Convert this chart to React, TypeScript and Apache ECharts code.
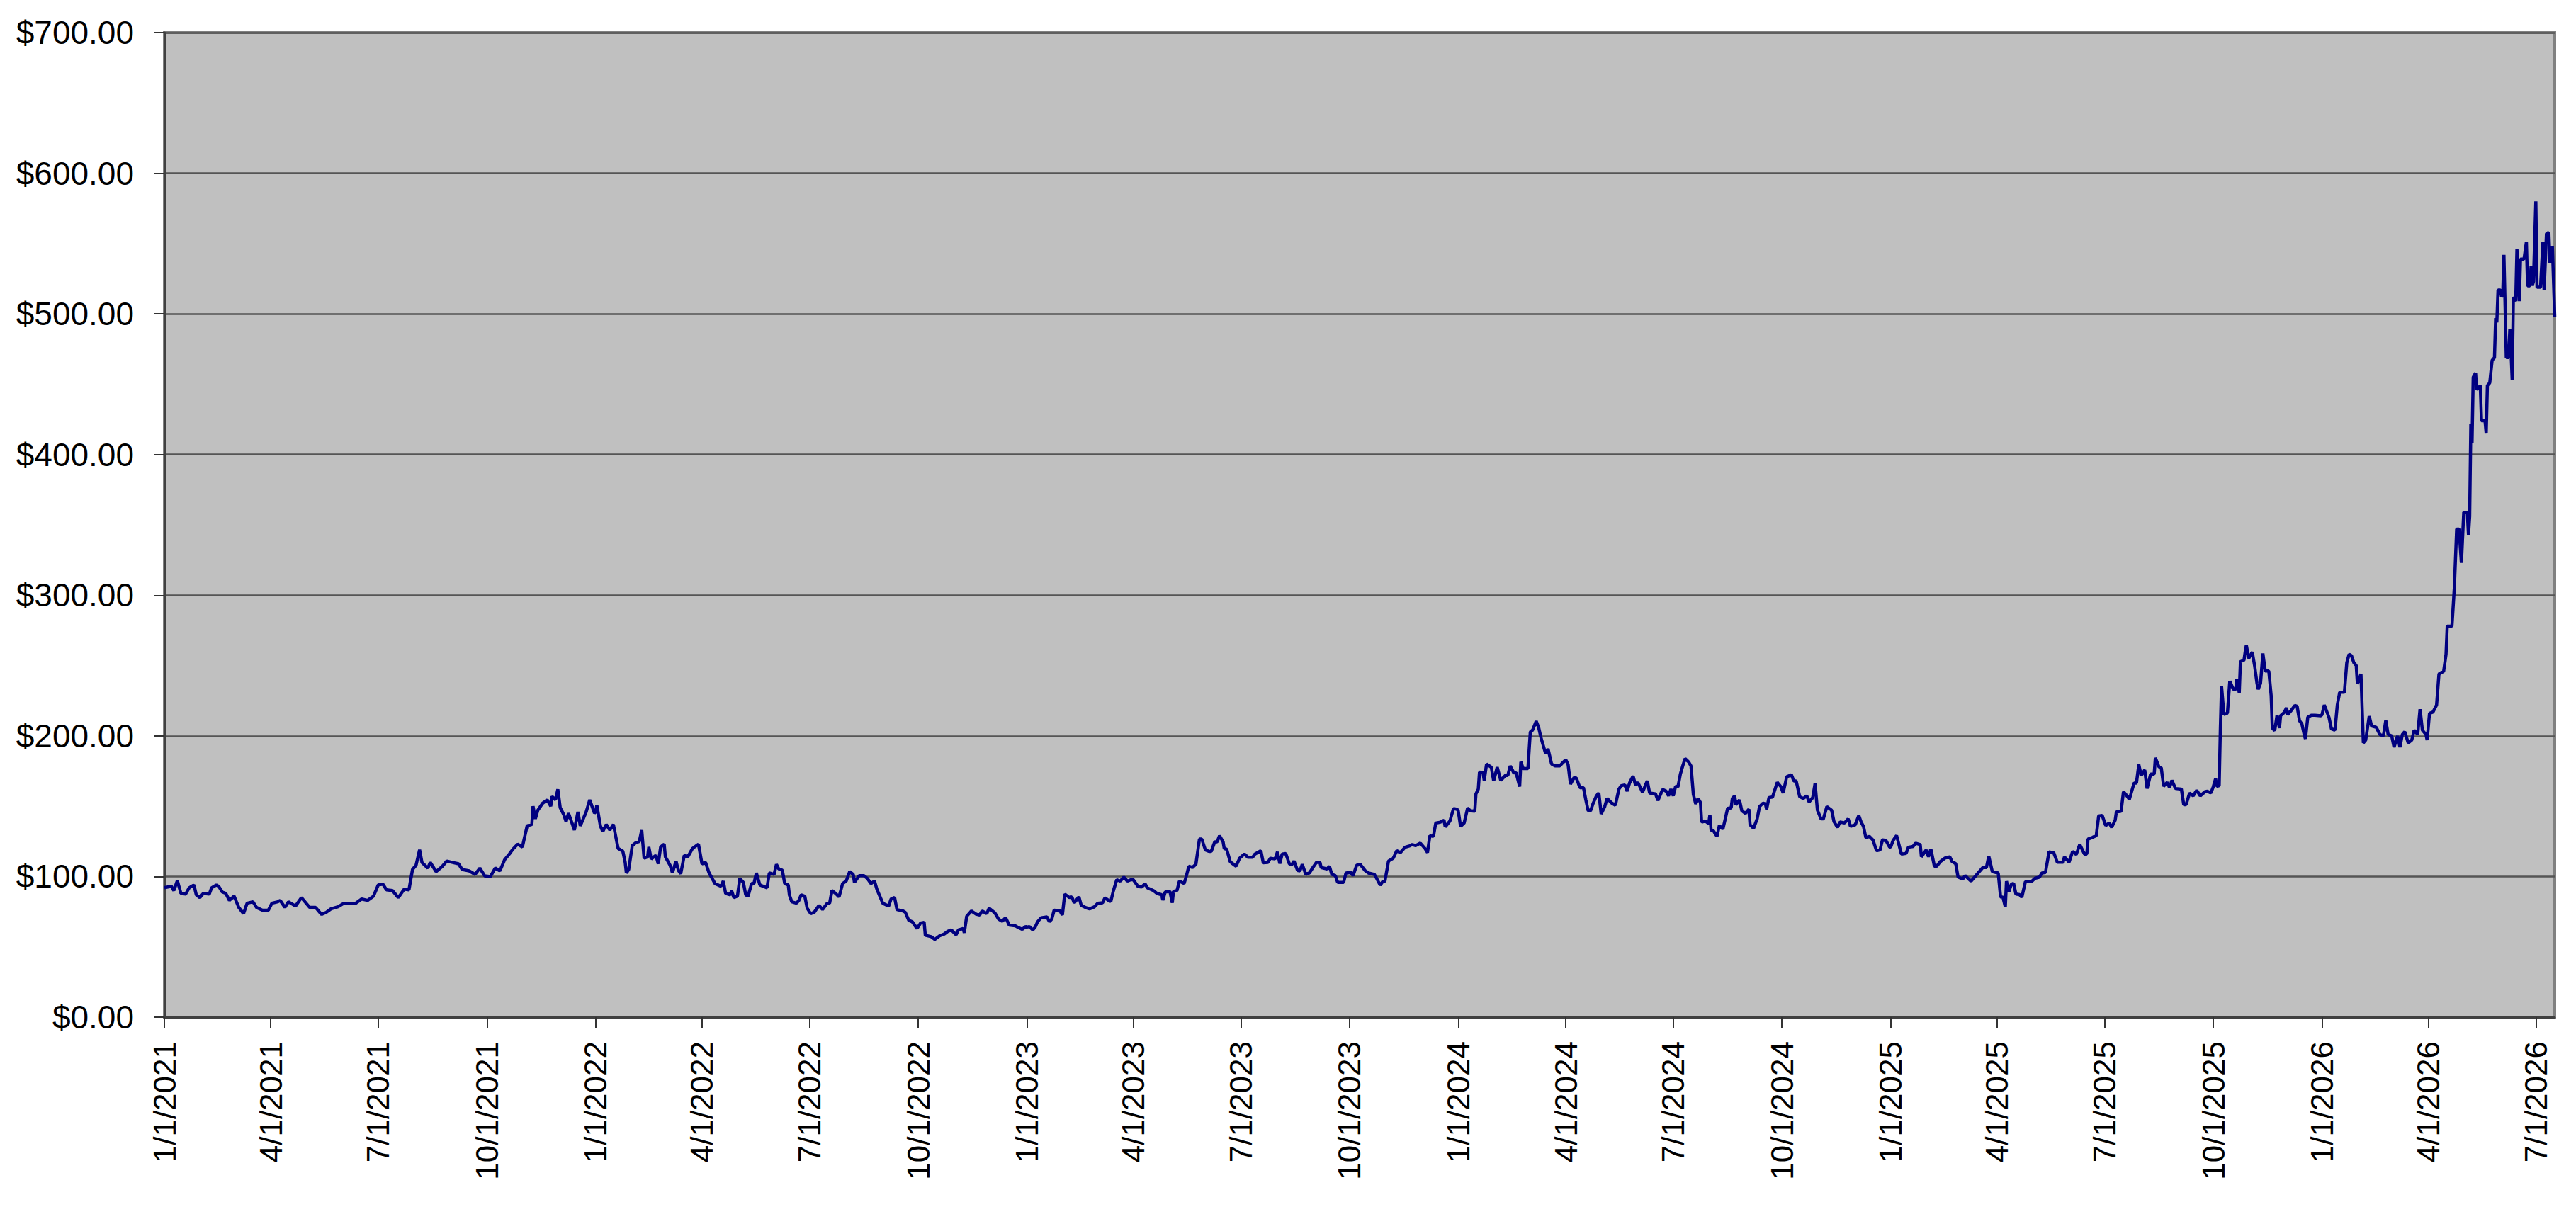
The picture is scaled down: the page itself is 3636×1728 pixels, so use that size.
import React, { useEffect, useRef } from "react";
import * as echarts from "echarts";

const startDate = "2021-01-01";
const endDate = "2026-07-17";

// [day of year (0 = Jan 1), close]
const closes2021 = [
  [0, 92], [6, 93], [8, 90], [11, 97], [14, 88], [18, 87.5], [21, 92], [25, 94], [27, 87], [30, 85],
  [33, 88], [38, 87.5], [40, 92], [44, 94], [46, 93], [49, 89], [52, 88], [55, 83], [59, 86], [63, 78],
  [67, 73.6], [70, 81], [75, 82], [78, 78], [83, 76], [88, 76], [91, 81], [96, 82], [98, 83], [102, 78],
  [105, 82], [109, 80], [111, 79], [116, 85], [120, 81], [123, 78], [128, 78], [133, 73], [137, 74.5], [141, 77],
  [147, 78.5], [152, 81], [158, 81], [162, 81], [167, 84], [172, 83], [177, 86], [181, 94], [185, 94.5], [188, 90.5],
  [193, 90], [198, 85], [203, 91], [207, 90.5], [210, 105], [213, 108], [216, 119], [218, 110], [223, 106], [225, 110],
  [230, 103.5], [235, 107], [239, 111], [244, 110], [249, 109], [252, 105], [258, 104], [263, 101.5], [267, 106], [271, 100.5],
  [276, 100], [280, 106], [284, 104], [288, 112], [292, 116], [295, 119.5], [299, 123], [303, 121], [307, 136], [311, 137],
  [312, 150], [314, 141], [316, 147], [320, 152], [324, 154.5], [327, 150], [328, 157], [331, 154.5], [333, 162], [335, 149],
  [338, 144], [340, 139], [342, 145], [345, 138], [347, 133], [350, 146], [352, 136], [357, 146], [360, 154.5], [364, 145],
];
const closes2022 = [
  [0, 146], [1, 150.7], [4, 136], [6, 132], [9, 137], [12, 133], [15, 137], [19, 120], [23, 118], [25, 110],
  [26, 102.5], [28, 105], [31, 122], [34, 124], [37, 125], [39, 133], [41, 113], [44, 114], [45, 121], [47, 112.5],
  [51, 115], [53, 109], [55, 121], [58, 123], [59, 114], [63, 108], [65, 102.5], [68, 111], [70, 104.4], [72, 102],
  [75, 115], [78, 114], [82, 120], [87, 123], [90, 109], [93, 110], [96, 102.5], [101, 95], [106, 93], [108, 96.7],
  [110, 88], [114, 87], [115, 90], [117, 85], [120, 86], [122, 98.6], [125, 95.8], [127, 87], [129, 86], [132, 95],
  [134, 95], [136, 102.5], [139, 94], [142, 93], [145, 92], [147, 102.5], [151, 101.5], [153, 108.7], [155, 105.4], [158, 104.4],
  [160, 95], [163, 94], [164, 86.7], [166, 82], [170, 81], [172, 83], [174, 87], [177, 86], [179, 77.5], [182, 73.6],
  [185, 74.6], [189, 79.4], [192, 76.5], [196, 81], [198, 81], [200, 90], [203, 88], [206, 85.5], [209, 95], [212, 96.7],
  [215, 103.5], [218, 101.5], [219, 95.8], [223, 100.6], [227, 100.6], [230, 98.6], [233, 95], [236, 96.7], [238, 91], [243, 81],
  [248, 79], [250, 84], [253, 85], [255, 76.5], [260, 75.5], [262, 74.6], [265, 68.8], [268, 67.8], [272, 63], [275, 66.9],
  [278, 67.4], [279, 58.2], [284, 57.2], [287, 55.3], [291, 57.8], [295, 59.1], [298, 61], [301, 62], [305, 58.6], [307, 62],
  [311, 63], [312, 60], [314, 71.7], [318, 75.5], [322, 73.2], [325, 72.6], [327, 75.5], [331, 73.6], [333, 77.5], [338, 74],
  [341, 69.7], [344, 68.2], [347, 70.7], [350, 65.5], [355, 65], [357, 64], [361, 62.4], [364, 64.4],
];
const closes2023 = [
  [0, 64], [2, 64.4], [5, 62], [7, 64], [9, 67.8], [12, 70.7], [17, 71.3], [19, 67.8], [21, 69.7], [23, 76],
  [28, 75.5], [30, 72.6], [32, 87.5], [36, 85], [38, 85.5], [40, 81.3], [44, 85.5], [46, 79.4], [50, 77.8], [53, 77],
  [57, 78.4], [60, 81], [64, 81.3], [66, 84.8], [69, 83], [71, 82.3], [73, 89.4], [76, 97.7], [79, 96.7], [82, 99.6],
  [85, 96.7], [88, 97.7], [90, 97.7], [94, 92.9], [97, 92.5], [100, 94.8], [102, 91.9], [107, 90], [110, 88], [114, 87],
  [115, 83.2], [117, 89], [121, 89.4], [123, 81.3], [124, 89.4], [127, 90], [129, 96.7], [133, 95], [135, 100.6], [137, 107.3],
  [140, 106.4], [143, 108.7], [146, 126.6], [148, 126.6], [151, 118.9], [154, 117.9], [156, 117.9], [159, 124.7], [161, 124.7], [163, 129],
  [166, 124.7], [167, 119.8], [169, 119.5], [172, 110.6], [174, 109.2], [177, 107.3], [180, 113], [184, 116], [187, 113.7], [191, 113.7],
  [193, 116], [198, 118.3], [200, 109.8], [204, 110], [206, 113], [210, 112.5], [212, 117.5], [214, 109.2], [216, 116], [219, 116.4],
  [222, 109.2], [224, 108.3], [226, 111], [229, 104.4], [231, 104], [233, 108.7], [236, 101.5], [239, 102.5], [242, 106.4], [245, 110],
  [248, 110], [249, 106.4], [254, 105.4], [256, 107.3], [258, 101.5], [261, 100.6], [263, 95.8], [268, 95.8], [270, 102.5], [274, 102.9],
  [276, 100.6], [279, 107.9], [282, 108.7], [286, 104.4], [289, 102.5], [294, 101.5], [296, 98.6], [299, 93.8], [301, 96.3], [303, 96.7],
  [306, 111], [308, 112], [310, 113], [313, 118.3], [316, 117], [320, 120.8], [324, 121.8], [326, 122.7], [329, 122], [333, 123.7],
  [337, 119.8], [339, 117], [341, 129], [344, 128.5], [346, 138], [350, 138.7], [353, 140], [354, 135.3], [358, 139.5], [361, 148.4],
  [364, 147.8],
];
const closes2024 = [
  [0, 146.8], [2, 135.6], [5, 138], [8, 148.8], [10, 146.8], [14, 146.4], [15, 158.8], [17, 162.2], [18, 174.2], [21, 173.8],
  [22, 168.4], [24, 180], [28, 177.7], [30, 168], [33, 177.7], [36, 168.4], [40, 171.9], [42, 171.9], [44, 178.6], [47, 173.8],
  [49, 173.8], [52, 164], [53, 181.5], [55, 176.7], [59, 176.7], [61, 202.7], [63, 204.2], [66, 210.4], [68, 206.2], [70, 198.9],
  [74, 187.3], [76, 190.8], [79, 180], [82, 178.6], [86, 178.6], [88, 180.5], [91, 183], [93, 179.6], [95, 165.7], [98, 170.3],
  [100, 170], [103, 163.2], [106, 163.2], [108, 154.5], [110, 146.8], [112, 146.8], [114, 151.6], [117, 157.4], [119, 159.4], [121, 144.5],
  [124, 149.7], [126, 155.5], [130, 152.2], [133, 150.7], [136, 162.2], [138, 164.6], [141, 165.1], [143, 160.7], [145, 166.5], [148, 171.5],
  [150, 165.1], [152, 167], [156, 159.9], [160, 168], [162, 159.4], [167, 158.8], [169, 154.1], [173, 161.9], [176, 160.7], [178, 157.4],
  [180, 162.2], [182, 157.4], [184, 164.2], [186, 163.8], [188, 172.8], [190, 178.6], [192, 183.8], [195, 181.5], [197, 178.6], [199, 158.4],
  [201, 151.6], [203, 155.5], [205, 152.6], [206, 138.7], [209, 139.5], [212, 137.6], [213, 143.9], [214, 133], [216, 132.4], [219, 128.5],
  [221, 136.2], [224, 133.7], [226, 141], [228, 148.4], [231, 148.8], [232, 155.5], [234, 157.4], [235, 151], [238, 154.5], [240, 146.8],
  [243, 144.9], [246, 147.8], [247, 136.8], [250, 134.3], [253, 141], [255, 149.7], [258, 152.2], [260, 151.6], [261, 147.8], [263, 156.1],
  [266, 156.5], [270, 167], [273, 164], [275, 159.4], [278, 170.9], [282, 172.3], [284, 168], [286, 168], [289, 156.8], [292, 155.5],
  [295, 157.4], [297, 153], [300, 156.1], [302, 166.1], [304, 147.2], [307, 141], [309, 141], [312, 149.7], [316, 147.2], [318, 139.1],
  [321, 134.9], [323, 138.7], [327, 138.1], [330, 141], [332, 135.6], [336, 136.8], [339, 143.4], [341, 138.7], [343, 135.6], [345, 127.6],
  [348, 128.5], [351, 126], [354, 118.3], [357, 118.9], [359, 126], [362, 125.6], [365, 121],
];
const closes2025 = [
  [0, 120.8], [2, 125.6], [5, 129.1], [7, 122.7], [9, 116], [13, 116.4], [15, 120.8], [19, 121.4], [21, 123.7], [25, 122.7],
  [26, 114], [30, 118.9], [32, 114], [34, 119.5], [37, 107.3], [39, 107.3], [42, 110.6], [46, 113.1], [50, 114], [52, 110.6],
  [55, 109.2], [57, 99.6], [61, 98.3], [63, 100.6], [65, 99], [68, 96.7], [71, 99.6], [75, 103.5], [78, 106.4], [81, 106.4],
  [83, 114.5], [86, 103.5], [91, 102.5], [93, 85.5], [95, 85.2], [97, 78.4], [98, 96.7], [100, 89], [102, 94.4], [104, 95.2],
  [106, 87.5], [109, 87.1], [111, 85.2], [114, 96.3], [119, 96.3], [122, 98.7], [126, 99.6], [128, 102.5], [131, 102.9], [134, 117.5],
  [138, 116.9], [141, 110.2], [146, 110.2], [147, 114], [151, 110.2], [154, 117.9], [157, 115.6], [160, 122.7], [164, 116], [166, 116],
  [167, 126.6], [171, 127.9], [174, 129.1], [176, 143], [179, 143.4], [182, 136.2], [185, 138.1], [187, 134.9], [190, 140.1], [191, 145.9],
  [195, 146.4], [197, 160.3], [199, 158.4], [202, 154.9], [206, 166.5], [208, 166.5], [210, 179.6], [212, 171.9], [215, 175.7], [217, 162.6],
  [220, 172.8], [223, 172.8], [224, 184.4], [227, 178], [229, 177.3], [231, 164.2], [234, 167], [236, 163.2], [238, 168.4], [241, 162.6],
  [246, 162.2], [248, 151.1], [250, 151.1], [253, 159.4], [256, 157.4], [259, 161.3], [262, 157.4], [266, 160.3], [268, 160.7], [271, 159.4],
  [273, 163.8], [275, 169.6], [276, 164.2], [278, 164.6], [279, 204.6], [280, 235.5], [282, 215.2], [285, 216.2], [287, 238.9], [290, 233.1],
  [292, 233.1], [293, 240.3], [295, 230.7], [296, 252.8], [299, 253.8], [300, 259.6], [301, 264.4], [303, 255.1], [306, 259.6], [308, 249.9],
  [310, 237.4], [311, 233.1], [313, 237.4], [315, 258.6], [317, 246.1], [320, 246.1], [322, 228.7], [323, 205.6], [325, 203.7], [327, 214.7],
  [329, 205.6], [330, 214.3], [333, 216.6], [335, 220], [336, 215.2], [339, 218.1], [342, 221.6], [344, 221], [346, 210.8], [348, 208.5],
  [350, 200.8], [351, 197.9], [353, 213.3], [356, 214.7], [359, 214.7], [364, 214.3],
];
const closes2026 = [
  [0, 215], [2, 222], [6, 213], [8, 205], [11, 204], [13, 222], [15, 231], [19, 231], [21, 252], [23, 258],
  [25, 257], [27, 252], [29, 250], [30, 237], [33, 244], [35, 195], [37, 197], [40, 214], [42, 207], [46, 206],
  [49, 201], [52, 200], [54, 211], [56, 201], [59, 200], [61, 192], [64, 200], [66, 192], [68, 201], [70, 203],
  [73, 195], [76, 197], [78, 204], [81, 201], [83, 219], [85, 204], [88, 201], [89, 197], [91, 216], [94, 217],
  [97, 222], [99, 244], [103, 246], [105, 258], [106, 278], [110, 278], [112, 305], [114, 347], [116, 347], [118, 323],
  [120, 359], [123, 359], [124, 343], [125, 356], [126, 422], [127, 408], [128, 455], [130, 458], [131, 446], [134, 449],
  [135, 424], [138, 424], [139, 415], [140, 449], [142, 451], [144, 467], [146, 469], [147, 497], [148, 494], [149, 517],
  [151, 517], [152, 512], [153, 514], [154, 542], [156, 469], [158, 469], [159, 489], [160, 473], [161, 453], [162, 512],
  [164, 509], [165, 546], [167, 509], [168, 539], [171, 539], [173, 551], [174, 520], [176, 520], [177, 534], [178, 520],
  [179, 523], [181, 580], [182, 519], [185, 519], [187, 551], [188, 517], [190, 557], [192, 558], [193, 536], [195, 548],
  [197, 498],
];

const quarterLabels = [
  "1/1/2021", "4/1/2021", "7/1/2021", "10/1/2021",
  "1/1/2022", "4/1/2022", "7/1/2022", "10/1/2022",
  "1/1/2023", "4/1/2023", "7/1/2023", "10/1/2023",
  "1/1/2024", "4/1/2024", "7/1/2024", "10/1/2024",
  "1/1/2025", "4/1/2025", "7/1/2025", "10/1/2025",
  "1/1/2026", "4/1/2026", "7/1/2026",
];

const yMin = 0;
const yMax = 700;
const yStep = 100;

const DAY = 86400000;
function toMs(s: string) {
  const [y, m, d] = s.split("-").map(Number);
  return Date.UTC(y, m - 1, d);
}
function fmt(ms: number) {
  const d = new Date(ms);
  return `${d.getUTCMonth() + 1}/${d.getUTCDate()}/${d.getUTCFullYear()}`;
}

export default function App() {
  const ref = useRef<HTMLDivElement>(null);
  useEffect(() => {
    if (!ref.current) return;
    const chart = echarts.init(ref.current, null, { renderer: "svg" });
    const start = toMs(startDate);
    const end = toMs(endDate);
    const n = Math.round((end - start) / DAY) + 1;
    const categories: string[] = [];
    for (let i = 0; i < n; i++) categories.push(fmt(start + i * DAY));

    const data: [number, number][] = [];
    const years: [number, number[][]][] = [
      [2021, closes2021],
      [2022, closes2022],
      [2023, closes2023],
      [2024, closes2024],
      [2025, closes2025],
      [2026, closes2026],
    ];
    years.forEach(([y, rows]) => {
      const i0 = Math.round((Date.UTC(y, 0, 1) - start) / DAY);
      rows.forEach(([d, v]) => data.push([i0 + d, v]));
    });

    const qs = new Set(quarterLabels);
    const font = "'Liberation Sans', Arial, Helvetica, sans-serif";

    chart.setOption({
      animation: false,
      backgroundColor: "#ffffff",
      grid: {
        left: 232,
        top: 46,
        right: 30,
        bottom: 292,
        show: true,
        backgroundColor: "#C0C0C0",
        borderColor: "#808080",
        borderWidth: 4,
      },
      xAxis: {
        type: "category",
        data: categories,
        boundaryGap: false,
        axisLine: { show: true, lineStyle: { color: "#404040", width: 3 } },
        axisTick: {
          show: true,
          interval: (_i: number, v: string) => qs.has(v),
          length: 15,
          lineStyle: { color: "#333333", width: 2 },
        },
        axisLabel: {
          interval: (_i: number, v: string) => qs.has(v),
          rotate: 90,
          margin: 34,
          fontSize: 44,
          fontFamily: font,
          color: "#000000",
        },
        splitLine: { show: false },
      },
      yAxis: {
        type: "value",
        min: yMin,
        max: yMax,
        interval: yStep,
        axisLine: { show: true, lineStyle: { color: "#404040", width: 3 } },
        axisTick: { show: true, length: 15, lineStyle: { color: "#333333", width: 2 } },
        axisLabel: {
          formatter: (v: number) => "$" + v.toFixed(2),
          fontSize: 46,
          margin: 43,
          fontFamily: font,
          color: "#000000",
        },
        splitLine: { show: true, lineStyle: { color: "#555555", width: 2.5 } },
      },
      series: [
        {
          type: "line",
          data,
          symbol: "none",
          showSymbol: false,
          lineStyle: { color: "#000080", width: 4.5 },
          itemStyle: { color: "#000080" },
        },
      ],
    });
    return () => chart.dispose();
  }, []);
  return (
    <div
      ref={ref}
      style={{ position: "fixed", left: 0, top: 0, width: 3636, height: 1728 }}
    />
  );
}
